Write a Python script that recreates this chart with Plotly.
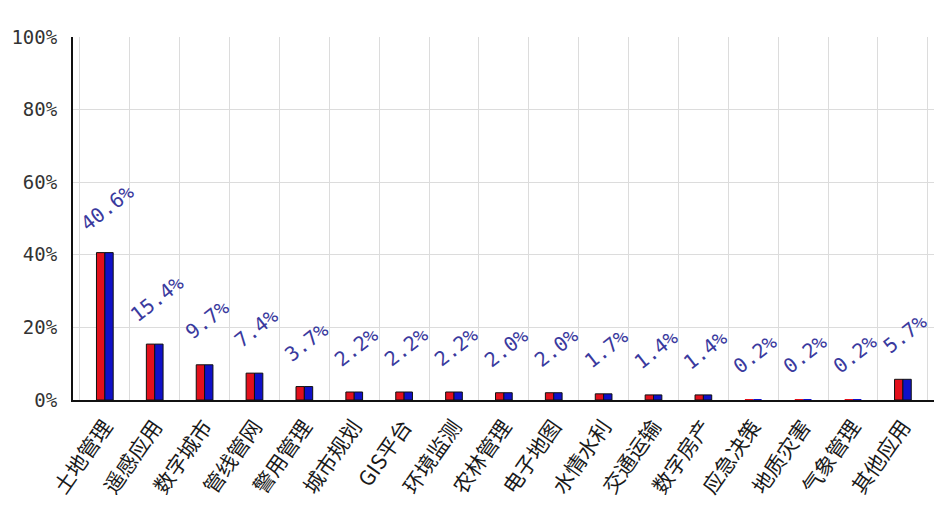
import plotly.graph_objects as go

# Application areas and their share of projects (%)
categories = ["土地管理", "遥感应用", "数字城市", "管线管网", "警用管理", "城市规划",
              "GIS平台", "环境监测", "农林管理", "电子地图", "水情水利", "交通运输",
              "数字房产", "应急决策", "地质灾害", "气象管理", "其他应用"]
shares = [40.6, 15.4, 9.7, 7.4, 3.7, 2.2, 2.2, 2.2, 2.0, 2.0, 1.7, 1.4, 1.4,
          0.2, 0.2, 0.2, 5.7]
y_ticks = [0, 20, 40, 60, 80, 100]

# bars too thin to show a face get no outline either
outline = [1 if v >= 1 else 0 for v in shares]

fig = go.Figure()
# Two-tone bars: red front face, blue side face
fig.add_trace(go.Bar(x=categories, y=shares,
                     marker=dict(color="#e3101c", line=dict(color="#111111", width=outline)),
                     hoverinfo="skip", showlegend=False))
fig.add_trace(go.Bar(x=categories, y=shares,
                     marker=dict(color="#1010c8", line=dict(color="#111111", width=outline)),
                     hoverinfo="skip", showlegend=False))

for c, v in zip(categories, shares):
    fig.add_annotation(x=c, y=v, text=f"{v:.1f}%", showarrow=False,
                       textangle=-38, xshift=2, yshift=45,
                       font=dict(family="DejaVu Sans Mono", size=20, color="#3a3a9e"))

fig.update_layout(
    width=936, height=511,
    margin=dict(l=73, r=2, t=37, b=111),
    paper_bgcolor="white", plot_bgcolor="white",
    barmode="group", bargap=0.665, bargroupgap=0,
    xaxis=dict(type="category", tickson="boundaries", showgrid=True, gridcolor="#dcdcdc",
               gridwidth=1, showline=True, linecolor="#111111", linewidth=2,
               ticks="", tickangle=-55, ticklabelstandoff=4,
               tickfont=dict(family="Noto Sans CJK SC", size=21, color="#1a1a1a")),
    yaxis=dict(range=[0, 100], tickvals=y_ticks, ticktext=[f"{t}%" for t in y_ticks],
               showgrid=True, gridcolor="#dcdcdc", gridwidth=1, zeroline=False,
               showline=True, linecolor="#111111", linewidth=2, ticks="",
               ticklabelstandoff=10,
               tickfont=dict(family="DejaVu Sans Mono", size=19, color="#333333")),
)

fig.write_html("out.html")
